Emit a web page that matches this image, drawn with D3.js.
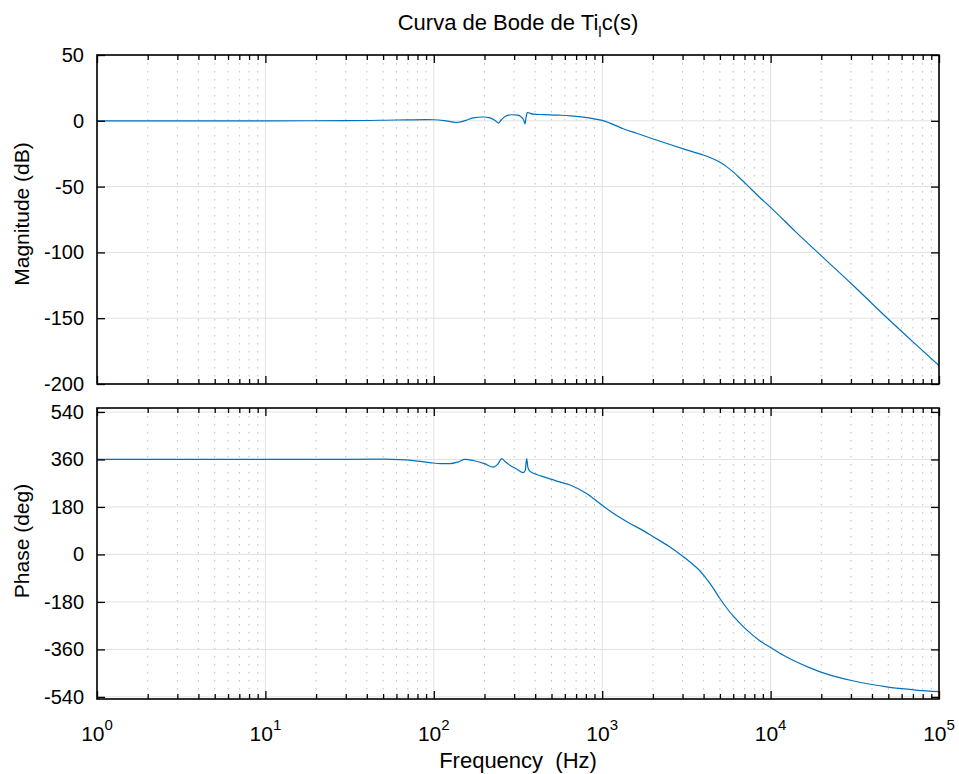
<!DOCTYPE html>
<html>
<head>
<meta charset="utf-8">
<script src="https://cdn.jsdelivr.net/npm/d3@7"></script>
<style>
  body { margin: 0; background: #fff; }
  svg { font-family: "Liberation Sans", Arial, sans-serif; }
</style>
</head>
<body>
<svg width="959" height="774"></svg>
<script>
// values
const magFreq = [1, 3, 10, 30, 60, 90, 100, 115, 136, 155, 171, 197, 215, 230, 242, 252, 265, 290, 315, 330, 342, 348, 353, 359, 390, 450, 550, 650, 750, 850, 1000, 1150, 1334, 1600, 2010, 2500, 3035, 3500, 3980, 4500, 5010, 5500, 6010, 6600, 7210, 8500, 10140, 14000, 20100, 30300, 48900, 70000, 100000];
const magDb = [0, 0, 0, 0.1, 0.6, 0.9, 0.8, 0.2, -1.3, 0.3, 2.2, 2.9, 2.2, 0.5, -1.7, 0.8, 3.3, 4.6, 4.3, 3.0, 0.5, -2.3, 2.5, 6.3, 5.0, 4.7, 4.3, 3.8, 3.0, 2.0, 0.3, -2.5, -6, -9.5, -13.8, -17.8, -21.3, -23.8, -26, -28.6, -31.5, -35, -39, -43.8, -48.5, -57.5, -66.5, -84, -102.8, -124, -149.5, -168, -186];

const phaseFreq = [1, 10, 30, 50, 63, 80, 95, 110, 125, 140, 153, 171, 200, 226, 240, 253, 265, 283, 310, 340, 349, 356, 362, 369, 390, 408, 450, 550, 650, 808, 1000, 1200, 1463, 1700, 2010, 2500, 3035, 3500, 3800, 4085, 4500, 5010, 5500, 6010, 7210, 8500, 10140, 12000, 14290, 17000, 20100, 25000, 30300, 40000, 48900, 60000, 75000, 100000];
const phaseDeg = [360, 360, 360.5, 361, 359, 354, 348, 344, 344, 351, 360, 356, 344, 331, 342, 363, 352, 338, 324, 310, 318, 363, 330, 318, 308, 303, 294, 276, 262, 231, 186, 150, 117, 95, 67, 30, -9, -41, -62, -86, -122, -168, -204, -234, -286, -324, -355, -383, -408, -429, -447, -465, -478, -493, -502, -509, -515, -520];

const decades = [1, 10, 100, 1000, 10000, 100000];
const decadeExps = ["0", "1", "2", "3", "4", "5"];
const magTicks = [50, 0, -50, -100, -150, -200];
const phaseTicks = [540, 360, 180, 0, -180, -360, -540];

const svg = d3.select("svg");
const left = 97, right = 939;
const lineColor = "#0072bd";

const minorTicks = [];
decades.slice(0, -1).forEach((d) => {
  for (let k = 2; k <= 9; k++) minorTicks.push(d * k);
});

const x = d3.scaleLog().domain([1, 1e5]).range([left, right]);

function drawPanel(id, y, yTicks, freqs, vals, top, bottom) {
  const g = svg.append("g");

  // grid
  g.selectAll(".minor")
    .data(minorTicks)
    .enter()
    .append("line")
    .attr("x1", (d) => x(d))
    .attr("x2", (d) => x(d))
    .attr("y1", top)
    .attr("y2", bottom)
    .attr("stroke", "#b0b0b0")
    .attr("stroke-width", 0.8)
    .attr("stroke-dasharray", "1.5,6.5");

  g.selectAll(".vmajor")
    .data(decades)
    .enter()
    .append("line")
    .attr("x1", (d) => x(d))
    .attr("x2", (d) => x(d))
    .attr("y1", top)
    .attr("y2", bottom)
    .attr("stroke", "#e1e1e1")
    .attr("stroke-width", 1);

  g.selectAll(".hmajor")
    .data(yTicks)
    .enter()
    .append("line")
    .attr("x1", left)
    .attr("x2", right)
    .attr("y1", (d) => y(d))
    .attr("y2", (d) => y(d))
    .attr("stroke", "#e1e1e1")
    .attr("stroke-width", 1);

  // curve
  svg.append("clipPath")
    .attr("id", id)
    .append("rect")
    .attr("x", left)
    .attr("y", top)
    .attr("width", right - left)
    .attr("height", bottom - top);

  const line = d3
    .line()
    .x((d, i) => x(freqs[i]))
    .y((d) => y(d))
    .curve(d3.curveMonotoneX);

  g.append("path")
    .attr("d", line(vals))
    .attr("fill", "none")
    .attr("stroke", lineColor)
    .attr("stroke-width", 1.2)
    .attr("clip-path", `url(#${id})`);

  // axes, ticks inward on all four sides
  const yLeft = g.append("g").attr("transform", `translate(${left},0)`)
    .call(d3.axisLeft(y).tickValues(yTicks).tickSize(-8).tickPadding(13).tickFormat((d) => String(d)));
  const yRight = g.append("g").attr("transform", `translate(${right},0)`)
    .call(d3.axisRight(y).tickValues(yTicks).tickSize(-8).tickFormat(""));
  const xBottom = g.append("g").attr("transform", `translate(0,${bottom})`)
    .call(d3.axisBottom(x).tickValues(decades).tickSize(-8).tickFormat(""));
  const xTop = g.append("g").attr("transform", `translate(0,${top})`)
    .call(d3.axisTop(x).tickValues(decades).tickSize(-8).tickFormat(""));
  const xBottomMinor = g.append("g").attr("transform", `translate(0,${bottom})`)
    .call(d3.axisBottom(x).tickValues(minorTicks).tickSize(-5).tickFormat(""));
  const xTopMinor = g.append("g").attr("transform", `translate(0,${top})`)
    .call(d3.axisTop(x).tickValues(minorTicks).tickSize(-5).tickFormat(""));

  [yLeft, yRight, xBottom, xTop, xBottomMinor, xTopMinor].forEach((a) => {
    a.select(".domain").remove();
    a.selectAll("line").attr("stroke", "#000").attr("stroke-width", 1.3);
  });
  yLeft.selectAll("text")
    .attr("font-size", 20)
    .attr("font-family", "Liberation Sans, Arial, sans-serif")
    .attr("fill", "#000");

  g.append("rect")
    .attr("x", left)
    .attr("y", top)
    .attr("width", right - left)
    .attr("height", bottom - top)
    .attr("fill", "none")
    .attr("stroke", "#000")
    .attr("stroke-width", 1.6);
}

const yMag = d3.scaleLinear().domain([-200, 50]).range([384, 55]);
const yPhase = d3.scaleLinear().domain([-548, 555]).range([699, 408]);

drawPanel("clipMag", yMag, magTicks, magFreq, magDb, 55, 384);
drawPanel("clipPhase", yPhase, phaseTicks, phaseFreq, phaseDeg, 408, 699);

// x tick labels with exponents
const xl = svg.selectAll(".xlab")
  .data(decades)
  .enter()
  .append("text")
  .attr("x", (d) => x(d))
  .attr("y", 741)
  .attr("text-anchor", "middle")
  .attr("font-size", 21);
xl.append("tspan").text("10");
xl.append("tspan")
  .attr("dy", -11)
  .attr("font-size", 15)
  .text((d, i) => decadeExps[i]);

// titles
const title = svg.append("text")
  .attr("x", 518)
  .attr("y", 30)
  .attr("text-anchor", "middle")
  .attr("font-size", 22);
title.append("tspan").text("Curva de Bode de Ti");
title.append("tspan").attr("dy", 7).attr("font-size", 15).text("l");
title.append("tspan").attr("dy", -7).text("c(s)");

svg.append("text")
  .attr("transform", "translate(29,214) rotate(-90)")
  .attr("text-anchor", "middle")
  .attr("font-size", 21)
  .text("Magnitude (dB)");

svg.append("text")
  .attr("transform", "translate(29,541) rotate(-90)")
  .attr("text-anchor", "middle")
  .attr("font-size", 21)
  .text("Phase (deg)");

svg.append("text")
  .attr("x", 518)
  .attr("y", 768)
  .attr("text-anchor", "middle")
  .attr("font-size", 22)
  .style("white-space", "pre")
  .text("Frequency  (Hz)");
</script>
</body>
</html>
